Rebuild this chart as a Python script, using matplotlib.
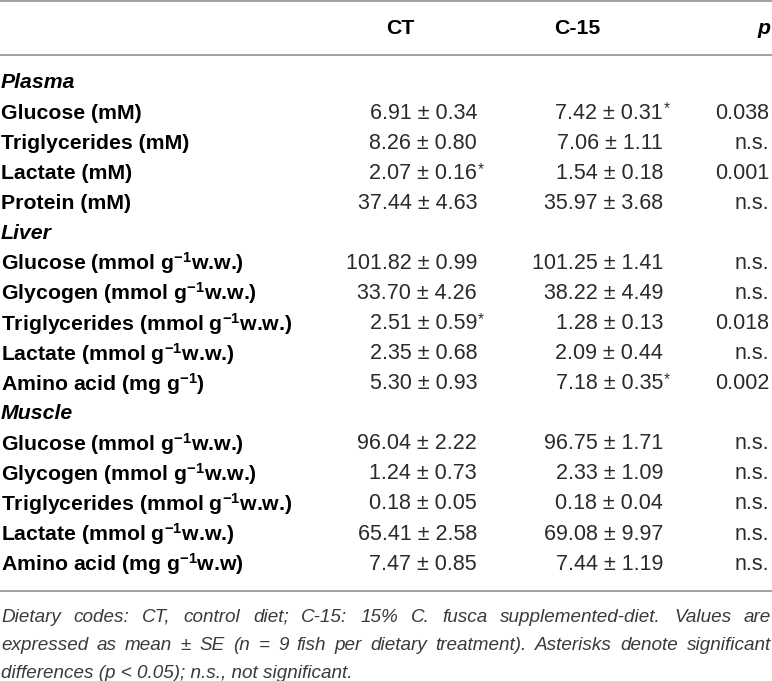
import matplotlib
matplotlib.use("Agg")
import matplotlib.pyplot as plt
from matplotlib import font_manager

# ---------------- data ----------------
sections = ["Plasma", "Liver", "Muscle"]
plasma_labels = ["Glucose (mM)", "Triglycerides (mM)", "Lactate (mM)", "Protein (mM)"]
liver_labels = [r"Glucose (mmol g$^{\mathbf{-1}}$w.w.)", r"Glycogen (mmol g$^{\mathbf{-1}}$w.w.)",
                r"Triglycerides (mmol g$^{\mathbf{-1}}$w.w.)", r"Lactate (mmol g$^{\mathbf{-1}}$w.w.)",
                r"Amino acid (mg g$^{\mathbf{-1}}$)"]
muscle_labels = [r"Glucose (mmol g$^{\mathbf{-1}}$w.w.)", r"Glycogen (mmol g$^{\mathbf{-1}}$w.w.)",
                 r"Triglycerides (mmol g$^{\mathbf{-1}}$w.w.)", r"Lactate (mmol g$^{\mathbf{-1}}$w.w.)",
                 r"Amino acid (mg g$^{\mathbf{-1}}$w.w)"]

ct_mean = [6.91, 8.26, 2.07, 37.44, 101.82, 33.70, 2.51, 2.35, 5.30, 96.04, 1.24, 0.18, 65.41, 7.47]
ct_se = [0.34, 0.80, 0.16, 4.63, 0.99, 4.26, 0.59, 0.68, 0.93, 2.22, 0.73, 0.05, 2.58, 0.85]
c15_mean = [7.42, 7.06, 1.54, 35.97, 101.25, 38.22, 1.28, 2.09, 7.18, 96.75, 2.33, 0.18, 69.08, 7.44]
c15_se = [0.31, 1.11, 0.18, 3.68, 1.41, 4.49, 0.13, 0.44, 0.35, 1.71, 1.09, 0.04, 9.97, 1.19]
ct_sig = [0, 0, 1, 0, 0, 0, 1, 0, 0, 0, 0, 0, 0, 0]
c15_sig = [1, 0, 0, 0, 0, 0, 0, 0, 1, 0, 0, 0, 0, 0]
p_values = ["0.038", "n.s.", "0.001", "n.s.", "n.s.", "n.s.", "0.018", "n.s.", "0.002",
            "n.s.", "n.s.", "n.s.", "n.s.", "n.s."]
headers = ["CT", "C-15", "p"]
foot_lines = [
    "Dietary codes: CT, control diet; C-15: 15% C. fusca supplemented-diet. Values are",
    "expressed as mean \u00b1 SE (n = 9 fish per dietary treatment). Asterisks denote significant",
    "differences (p < 0.05); n.s., not significant.",
]

# ---------------- style ----------------
plt.rcParams["font.family"] = ["Liberation Sans", "DejaVu Sans"]
plt.rcParams["mathtext.fontset"] = "custom"
plt.rcParams["mathtext.rm"] = "Liberation Sans"
plt.rcParams["mathtext.bf"] = "Liberation Sans:bold"
plt.rcParams["mathtext.it"] = "Liberation Sans:italic"

names = {f.name for f in font_manager.fontManager.ttflist}
foot_family = "Liberation Sans Narrow" if "Liberation Sans Narrow" in names else "Liberation Sans"

W, H = 772, 681
fig = plt.figure(figsize=(W / 100, H / 100), dpi=100)
ax = fig.add_axes([0, 0, 1, 1])
ax.set_xlim(0, W)
ax.set_ylim(H, 0)
ax.axis("off")

line_col = "#9a9a9a"
val_col = "#2a2a2a"
FS = 15.3
VFS = 15.5

# rules
for yy in (1.2, 55, 591):
    ax.plot([0, W], [yy, yy], color=line_col, lw=1.3, solid_capstyle="butt")

# headers
hy = 28
ax.text(400, hy, headers[0], ha="center", va="center", fontsize=FS, fontweight="bold", color="black")
ax.text(577, hy, headers[1], ha="center", va="center", fontsize=FS, fontweight="bold", color="black")
ax.text(770, hy, headers[2], ha="right", va="center", fontsize=FS, fontweight="bold",
        fontstyle="italic", color="black")

# rows
rows = [("sec", sections[0])] + [("row", l) for l in plasma_labels] + \
       [("sec", sections[1])] + [("row", l) for l in liver_labels] + \
       [("sec", sections[2])] + [("row", l) for l in muscle_labels]

y0, step = 83, 30.07
x_ct, x_c15, x_p = 477, 663, 769
k = 0
for i, (kind, lab) in enumerate(rows):
    y = y0 + i * step
    if kind == "sec":
        ax.text(1, y, lab, ha="left", va="center", fontsize=FS, fontweight="bold",
                fontstyle="italic", color="black")
        continue
    ax.text(1, y, lab, ha="left", va="center", fontsize=FS, fontweight="bold", color="black")
    ax.text(x_ct, y, f"{ct_mean[k]:.2f} \u00b1 {ct_se[k]:.2f}", ha="right", va="center",
            fontsize=VFS, color=val_col)
    if ct_sig[k]:
        ax.text(x_ct + 0.5, y - 4, "*", ha="left", va="center", fontsize=VFS * 0.72, color=val_col)
    ax.text(x_c15, y, f"{c15_mean[k]:.2f} \u00b1 {c15_se[k]:.2f}", ha="right", va="center",
            fontsize=VFS, color=val_col)
    if c15_sig[k]:
        ax.text(x_c15 + 0.5, y - 4, "*", ha="left", va="center", fontsize=VFS * 0.72, color=val_col)
    ax.text(x_p, y, p_values[k], ha="right", va="center", fontsize=VFS, color=val_col)
    k += 1

# footnote (justified)
foot_y = [617, 645, 673]
ffs = 13.6
fcol = "#3a3a3a"
fig.canvas.draw()
renderer = fig.canvas.get_renderer()
for li, (line, fy) in enumerate(zip(foot_lines, foot_y)):
    words = line.split(" ")
    if li < len(foot_lines) - 1:
        widths = []
        objs = []
        for w in words:
            t = ax.text(0, fy, w, ha="left", va="center", fontsize=ffs, fontstyle="italic",
                        family=foot_family, color=fcol)
            bb = t.get_window_extent(renderer)
            widths.append(bb.width)
            objs.append(t)
        gap = (W - 2 - sum(widths)) / (len(words) - 1)
        x = 1
        for t, wdt in zip(objs, widths):
            t.set_x(x)
            x += wdt + gap
    else:
        ax.text(1, fy, line, ha="left", va="center", fontsize=ffs, fontstyle="italic",
                family=foot_family, color=fcol)

fig.savefig("out.png", dpi=100)
